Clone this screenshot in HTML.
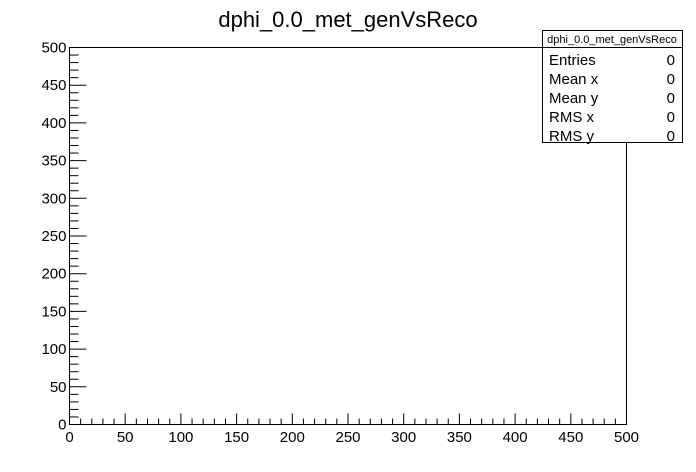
<!DOCTYPE html>
<html><head><meta charset="utf-8"><style>
body{margin:0;background:#fff;}
svg{display:block;font-family:"Liberation Sans",sans-serif;}
</style></head><body>
<svg id="c" width="696" height="472" xmlns="http://www.w3.org/2000/svg">
<rect width="696" height="472" fill="#fff"/>
<text x="348" y="27" font-size="22" text-anchor="middle">dphi_0.0_met_genVsReco</text>
<rect x="69.5" y="47.5" width="557" height="377" fill="none" stroke="#000"/>
<g id="ticks"></g>
<g>
<rect x="542.5" y="30.5" width="140" height="112" fill="#fff" stroke="#000"/>
<line x1="542.5" y1="47.5" x2="682.5" y2="47.5" stroke="#000"/>
<text x="612" y="43" font-size="11" text-anchor="middle">dphi_0.0_met_genVsReco</text>
<g font-size="15">
<text x="549" y="65">Entries</text><text x="675" y="65" text-anchor="end">0</text>
<text x="549" y="84">Mean x</text><text x="675" y="84" text-anchor="end">0</text>
<text x="549" y="103">Mean y</text><text x="675" y="103" text-anchor="end">0</text>
<text x="549" y="122">RMS x</text><text x="675" y="122" text-anchor="end">0</text>
<text x="549" y="141">RMS y</text><text x="675" y="141" text-anchor="end">0</text>
</g></g>
</svg>
<script>
const xTicks=[0,50,100,150,200,250,300,350,400,450,500];
const yTicks=[0,50,100,150,200,250,300,350,400,450,500];
const xMin=0,xMax=500,yMin=0,yMax=500;
const L=69.5,R=626.5,T=47.5,B=424.5;
const sx=v=>L+(v-xMin)/(xMax-xMin)*(R-L);
const sy=v=>B-(v-yMin)/(yMax-yMin)*(B-T);
const g=document.getElementById('ticks');
const NS='http://www.w3.org/2000/svg';
function line(x1,y1,x2,y2){const l=document.createElementNS(NS,'line');l.setAttribute('x1',x1);l.setAttribute('y1',y1);l.setAttribute('x2',x2);l.setAttribute('y2',y2);l.setAttribute('stroke','#000');g.appendChild(l);return l;}
function text(x,y,s,anchor){const t=document.createElementNS(NS,'text');t.setAttribute('x',x);t.setAttribute('y',y);t.setAttribute('font-size','15');t.setAttribute('text-anchor',anchor);t.textContent=s;g.appendChild(t);return t;}
for(let v=xMin;v<=xMax;v+=10){const x=sx(v);const major=v%50===0;const l=line(x,B,x,B-(major?11:6));

}
for(let v=yMin;v<=yMax;v+=10){const y=sy(v);const major=v%50===0;const l=line(L,y,L+(major?17:9),y);

}
xTicks.forEach(v=>{const t=text(sx(v),442,String(v),'middle');

});
yTicks.forEach(v=>{const t=text(L-3,sy(v)+5,String(v),'end');

});
</script>
</body></html>
